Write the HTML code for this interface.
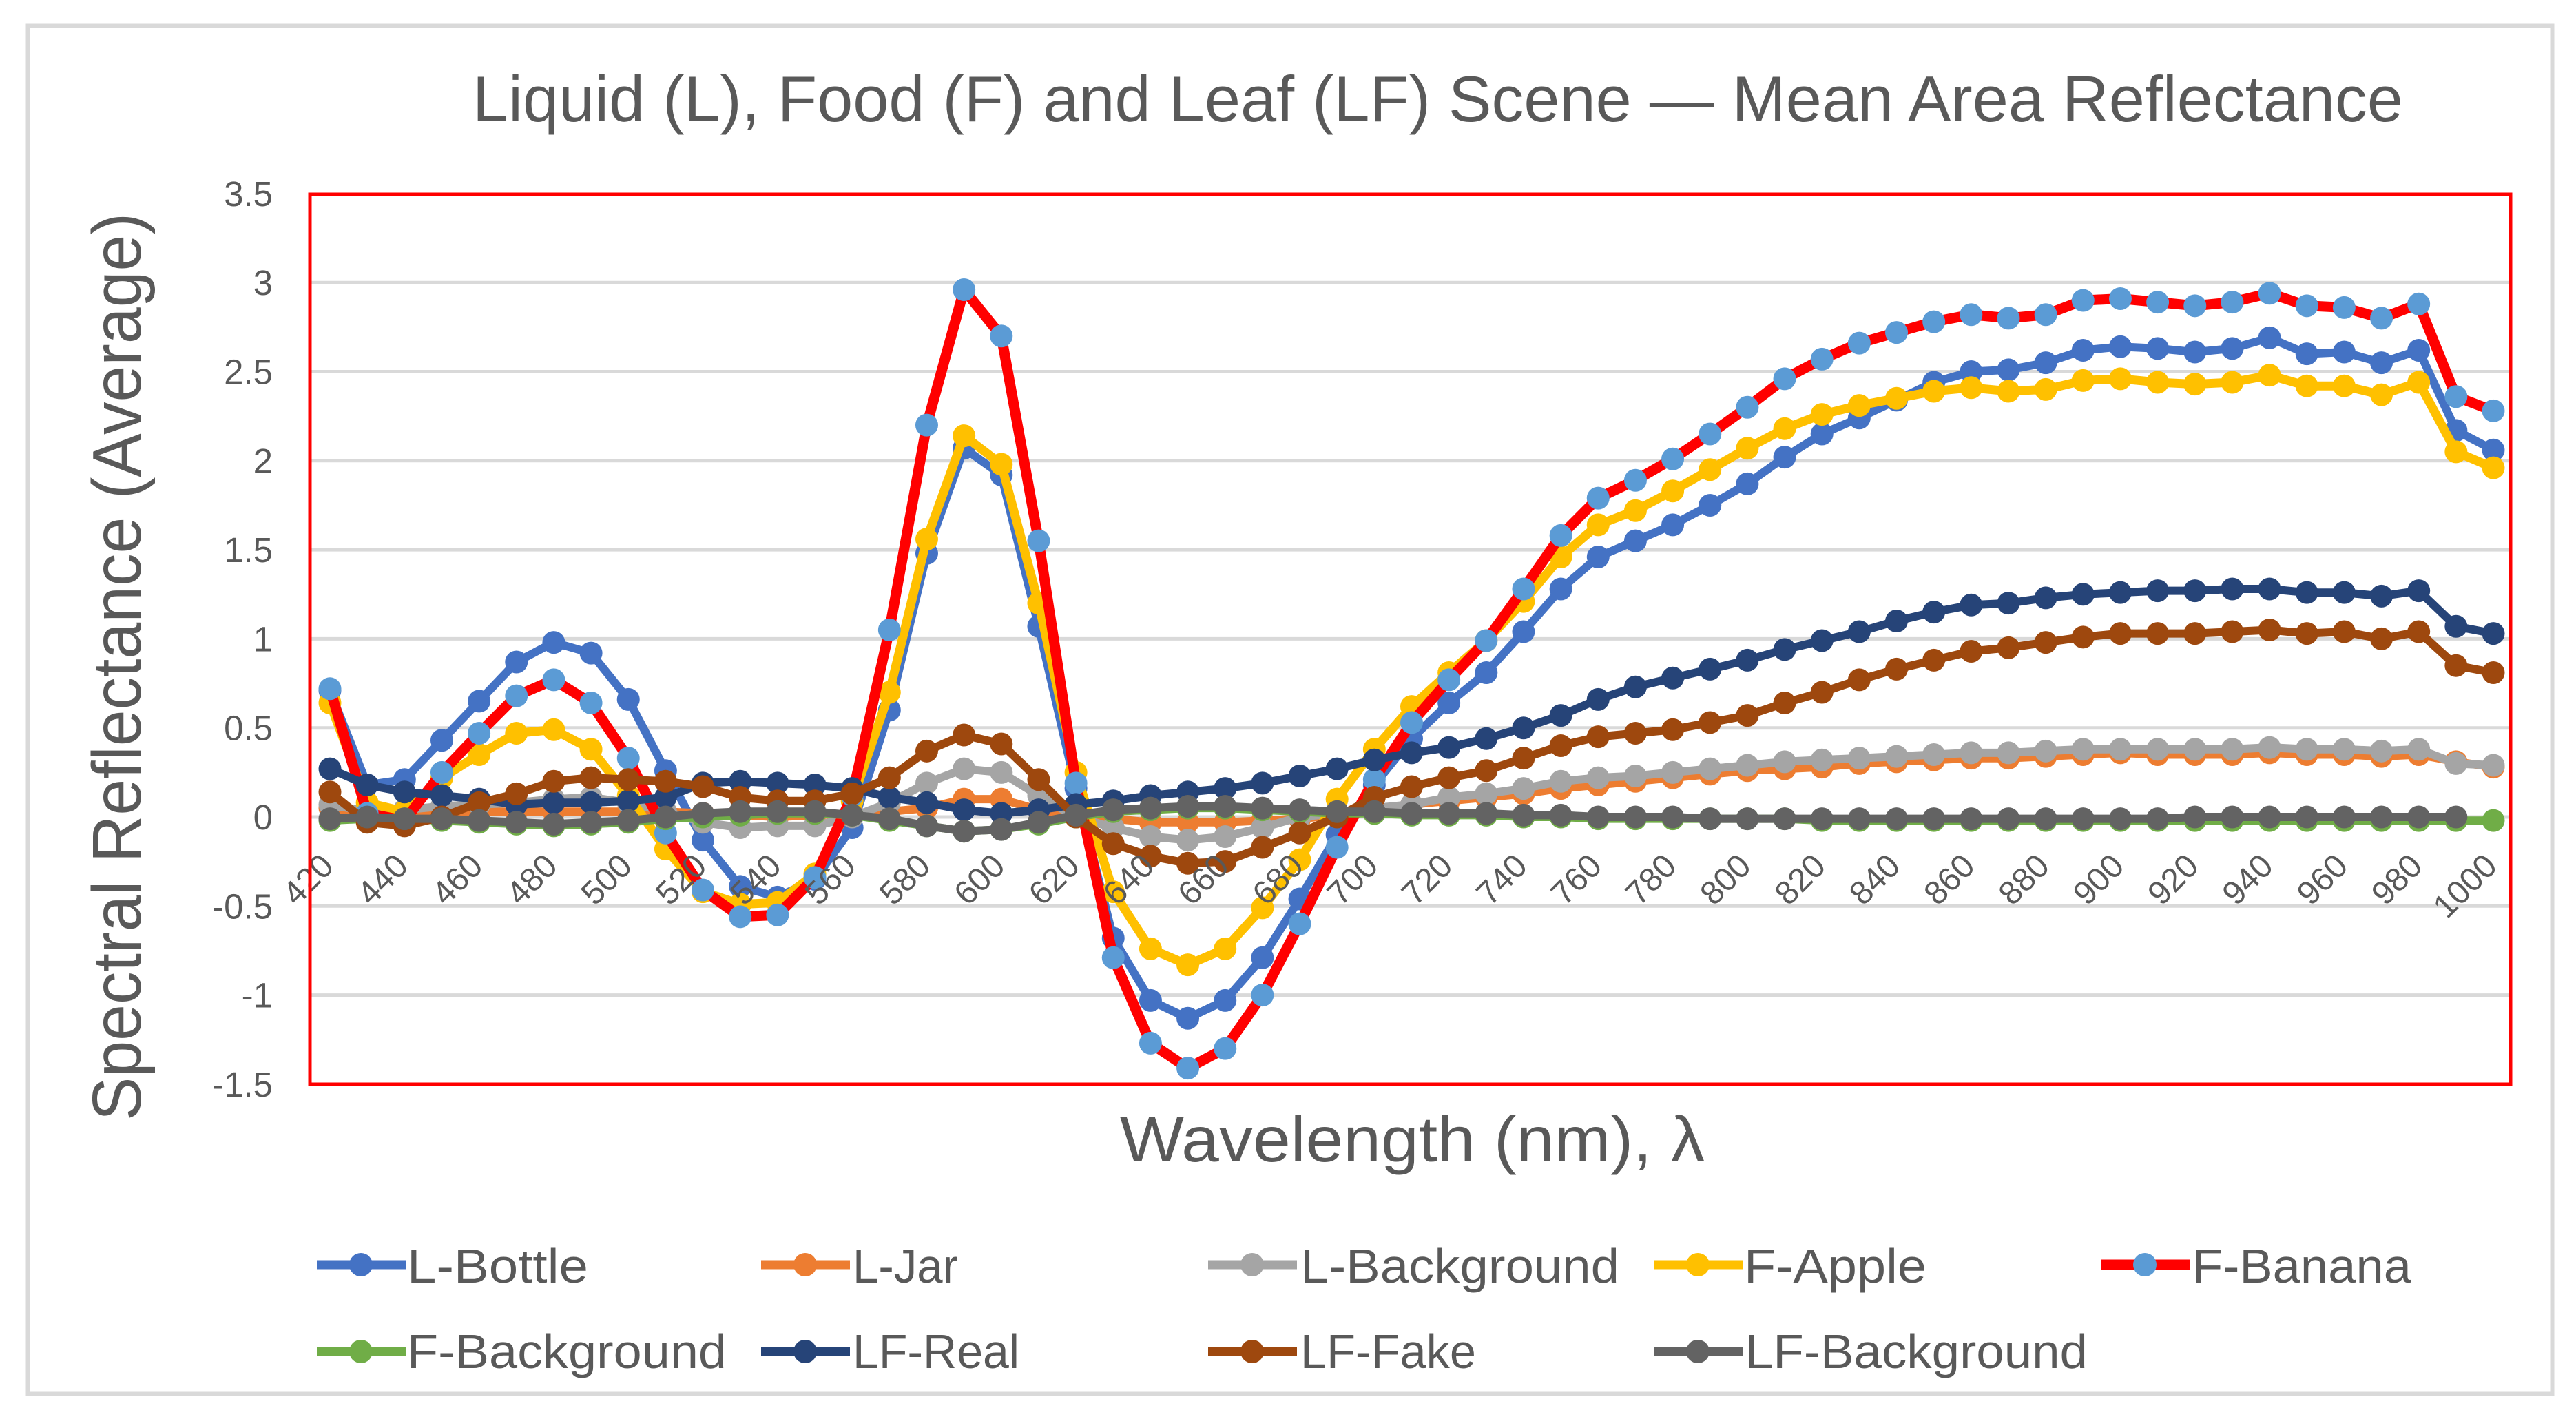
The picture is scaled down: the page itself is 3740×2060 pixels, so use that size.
<!DOCTYPE html>
<html lang="en">
<head>
<meta charset="utf-8">
<title>Liquid (L), Food (F) and Leaf (LF) Scene — Mean Area Reflectance</title>
<style>
html,body{margin:0;padding:0;background:#fff;}
svg{display:block;}
text{font-family:"Liberation Sans",sans-serif;fill:#595959;}
</style>
</head>
<body>
<svg id="chart" xmlns="http://www.w3.org/2000/svg" width="3740" height="2060" viewBox="0 0 3740 2060">
  <rect x="0" y="0" width="3740" height="2060" fill="#ffffff"/>
  <rect x="40.5" y="37.5" width="3665" height="1986" fill="#ffffff" stroke="#d9d9d9" stroke-width="6"/>
  <text x="686" y="176" font-size="94" textLength="2803" lengthAdjust="spacingAndGlyphs">Liquid (L), Food (F) and Leaf (LF) Scene — Mean Area Reflectance</text>
  <text transform="translate(204,968) rotate(-90)" text-anchor="middle" font-size="100" textLength="1318" lengthAdjust="spacingAndGlyphs">Spectral Reflectance (Average)</text>
  <text x="1626" y="1686" font-size="93" textLength="849" lengthAdjust="spacingAndGlyphs">Wavelength (nm), λ</text>
  <g id="grid"></g>
  <g id="y-ticks"></g>
  <g id="series"></g>
  <g id="x-ticks"></g>
  <rect x="450" y="282" width="3195" height="1292" fill="none" stroke="#ff0000" stroke-width="5"/>
  <g>
    <g>
      <line x1="460" x2="589" y1="1836" y2="1836" stroke="#4472C4" stroke-width="13"/><circle cx="524" cy="1836" r="17" fill="#4472C4"/>
      <text x="591" y="1862" font-size="70" textLength="263" lengthAdjust="spacingAndGlyphs">L-Bottle</text>
    </g>
    <g>
      <line x1="1105" x2="1234" y1="1836" y2="1836" stroke="#ED7D31" stroke-width="13"/><circle cx="1169" cy="1836" r="17" fill="#ED7D31"/>
      <text x="1238" y="1862" font-size="70" textLength="153" lengthAdjust="spacingAndGlyphs">L-Jar</text>
    </g>
    <g>
      <line x1="1754" x2="1883" y1="1836" y2="1836" stroke="#A5A5A5" stroke-width="13"/><circle cx="1818" cy="1836" r="17" fill="#A5A5A5"/>
      <text x="1888" y="1862" font-size="70" textLength="463" lengthAdjust="spacingAndGlyphs">L-Background</text>
    </g>
    <g>
      <line x1="2401" x2="2530" y1="1836" y2="1836" stroke="#FFC000" stroke-width="13"/><circle cx="2465" cy="1836" r="17" fill="#FFC000"/>
      <text x="2532" y="1862" font-size="70" textLength="265" lengthAdjust="spacingAndGlyphs">F-Apple</text>
    </g>
    <g>
      <line x1="3050" x2="3179" y1="1836" y2="1836" stroke="#FF0000" stroke-width="15"/><circle cx="3114" cy="1836" r="17" fill="#5B9BD5"/>
      <text x="3183" y="1862" font-size="70" textLength="318" lengthAdjust="spacingAndGlyphs">F-Banana</text>
    </g>
    <g>
      <line x1="460" x2="589" y1="1962" y2="1962" stroke="#70AD47" stroke-width="13"/><circle cx="524" cy="1962" r="17" fill="#70AD47"/>
      <text x="591" y="1986" font-size="70" textLength="464" lengthAdjust="spacingAndGlyphs">F-Background</text>
    </g>
    <g>
      <line x1="1105" x2="1234" y1="1962" y2="1962" stroke="#264478" stroke-width="13"/><circle cx="1169" cy="1962" r="17" fill="#264478"/>
      <text x="1238" y="1986" font-size="70" textLength="242" lengthAdjust="spacingAndGlyphs">LF-Real</text>
    </g>
    <g>
      <line x1="1754" x2="1883" y1="1962" y2="1962" stroke="#9E480E" stroke-width="13"/><circle cx="1818" cy="1962" r="17" fill="#9E480E"/>
      <text x="1888" y="1986" font-size="70" textLength="255" lengthAdjust="spacingAndGlyphs">LF-Fake</text>
    </g>
    <g>
      <line x1="2401" x2="2530" y1="1962" y2="1962" stroke="#636363" stroke-width="13"/><circle cx="2465" cy="1962" r="17" fill="#636363"/>
      <text x="2534" y="1986" font-size="70" textLength="497" lengthAdjust="spacingAndGlyphs">LF-Background</text>
    </g>
  </g>
</svg>
<script>
const wavelengths = [420,430,440,450,460,470,480,490,500,510,520,530,540,550,560,570,580,590,600,610,620,630,640,650,660,670,680,690,700,710,720,730,740,750,760,770,780,790,800,810,820,830,840,850,860,870,880,890,900,910,920,930,940,950,960,970,980,990,1000];
const yTickValues = [3.5,3,2.5,2,1.5,1,0.5,0,-0.5,-1,-1.5];
const xTickLabels = [420,440,460,480,500,520,540,560,580,600,620,640,660,680,700,720,740,760,780,800,820,840,860,880,900,920,940,960,980,1000];

const lBottle = [0.71,0.18,0.21,0.43,0.65,0.87,0.98,0.92,0.66,0.26,-0.13,-0.39,-0.45,-0.35,-0.06,0.60,1.48,2.07,1.92,1.07,0.16,-0.68,-1.03,-1.13,-1.03,-0.79,-0.46,-0.10,0.18,0.44,0.64,0.81,1.04,1.28,1.46,1.55,1.64,1.75,1.87,2.02,2.15,2.24,2.34,2.44,2.50,2.51,2.55,2.62,2.64,2.63,2.61,2.63,2.69,2.60,2.61,2.55,2.62,2.17,2.06];
const lJar = [0.05,0.02,0.02,0.03,0.03,0.03,0.03,0.03,0.03,0.03,0.02,0.01,0.00,0.01,0.02,0.03,0.05,0.10,0.10,0.04,0.00,-0.01,-0.03,-0.03,-0.03,-0.02,-0.01,0.01,0.04,0.07,0.09,0.11,0.13,0.16,0.18,0.20,0.22,0.24,0.26,0.27,0.28,0.30,0.31,0.32,0.33,0.33,0.34,0.35,0.36,0.35,0.35,0.35,0.36,0.35,0.35,0.34,0.35,0.31,0.28];
const lBackground = [0.07,0.03,0.04,0.06,0.07,0.08,0.10,0.11,0.08,0.03,-0.03,-0.06,-0.05,-0.05,0.00,0.08,0.19,0.27,0.25,0.12,0.00,-0.06,-0.11,-0.13,-0.11,-0.06,0.00,0.02,0.05,0.07,0.11,0.13,0.16,0.20,0.22,0.23,0.25,0.27,0.29,0.31,0.32,0.33,0.34,0.35,0.36,0.36,0.37,0.38,0.38,0.38,0.38,0.38,0.39,0.38,0.38,0.37,0.38,0.30,0.29];
const fApple = [0.64,0.08,0.03,0.22,0.35,0.47,0.49,0.38,0.12,-0.18,-0.42,-0.49,-0.48,-0.32,0.09,0.70,1.56,2.14,1.98,1.20,0.25,-0.42,-0.74,-0.83,-0.74,-0.51,-0.24,0.10,0.38,0.62,0.81,0.99,1.21,1.46,1.64,1.72,1.83,1.95,2.07,2.18,2.26,2.31,2.35,2.39,2.41,2.39,2.40,2.45,2.46,2.44,2.43,2.44,2.48,2.42,2.42,2.37,2.44,2.05,1.96];
const fBanana = [0.72,0.02,-0.02,0.25,0.47,0.68,0.77,0.64,0.33,-0.09,-0.41,-0.56,-0.55,-0.34,0.12,1.05,2.20,2.96,2.70,1.55,0.19,-0.79,-1.27,-1.41,-1.30,-1.00,-0.60,-0.17,0.21,0.53,0.77,0.99,1.28,1.58,1.79,1.89,2.01,2.15,2.30,2.46,2.57,2.66,2.72,2.78,2.82,2.80,2.82,2.90,2.91,2.89,2.87,2.89,2.94,2.87,2.86,2.80,2.88,2.36,2.28];
const fBackground = [-0.02,-0.01,-0.01,-0.02,-0.03,-0.04,-0.05,-0.04,-0.03,-0.01,0.00,0.01,0.02,0.02,0.01,-0.02,-0.05,-0.08,-0.07,-0.04,0.00,0.03,0.04,0.05,0.05,0.04,0.03,0.02,0.02,0.01,0.01,0.01,0.00,0.00,-0.01,-0.01,-0.01,-0.01,-0.01,-0.01,-0.02,-0.02,-0.02,-0.02,-0.02,-0.02,-0.02,-0.02,-0.02,-0.02,-0.02,-0.02,-0.02,-0.02,-0.02,-0.02,-0.02,-0.02,-0.02];
const lfReal = [0.27,0.18,0.14,0.12,0.10,0.07,0.08,0.08,0.09,0.11,0.19,0.20,0.19,0.18,0.16,0.11,0.08,0.04,0.02,0.04,0.07,0.09,0.12,0.14,0.16,0.19,0.23,0.27,0.32,0.36,0.39,0.44,0.50,0.57,0.66,0.73,0.78,0.83,0.88,0.94,0.99,1.04,1.10,1.15,1.19,1.20,1.23,1.25,1.26,1.27,1.27,1.28,1.28,1.26,1.26,1.24,1.27,1.07,1.03];
const lfFake = [0.14,-0.03,-0.05,0.00,0.08,0.13,0.20,0.22,0.21,0.20,0.17,0.11,0.09,0.09,0.13,0.22,0.37,0.46,0.41,0.21,0.00,-0.15,-0.22,-0.26,-0.25,-0.17,-0.09,0.00,0.11,0.17,0.22,0.26,0.33,0.40,0.45,0.47,0.49,0.53,0.57,0.64,0.70,0.77,0.83,0.88,0.93,0.95,0.98,1.01,1.03,1.03,1.03,1.04,1.05,1.03,1.04,1.00,1.04,0.85,0.81];
const lfBackground = [-0.01,0.00,-0.01,-0.01,-0.02,-0.03,-0.04,-0.03,-0.02,0.00,0.02,0.03,0.03,0.03,0.01,-0.01,-0.05,-0.08,-0.07,-0.03,0.01,0.04,0.05,0.06,0.06,0.05,0.04,0.03,0.03,0.02,0.02,0.02,0.01,0.01,0.00,0.00,0.00,-0.01,-0.01,-0.01,-0.01,-0.01,-0.01,-0.01,-0.01,-0.01,-0.01,-0.01,-0.01,-0.01,0.00,0.00,0.00,0.00,0.00,0.00,0.00,0.00,null];

const seriesNames = ['l-bottle','l-jar','l-background','f-apple','f-banana','f-background','lf-real','lf-fake','lf-background'];
const seriesValues = [lBottle,lJar,lBackground,fApple,fBanana,fBackground,lfReal,lfFake,lfBackground];
const lineColors = ['#4472C4','#ED7D31','#A5A5A5','#FFC000','#FF0000','#70AD47','#264478','#9E480E','#636363'];
const markerColors = ['#4472C4','#ED7D31','#A5A5A5','#FFC000','#5B9BD5','#70AD47','#264478','#9E480E','#636363'];
const lineWidths = [12,12,12,13,15,12,12,12,12];

const NS = 'http://www.w3.org/2000/svg';
const firstX = 479, lastX = 3620, firstW = wavelengths[0], lastW = wavelengths[wavelengths.length - 1];
function xScale(w) { return firstX + (w - firstW) * (lastX - firstX) / (lastW - firstW); }
function yScale(v) { return 1186 - v * 258.6; }

function make(tag, attrs, parent) {
  const el = document.createElementNS(NS, tag);
  for (const k in attrs) el.setAttribute(k, attrs[k]);
  parent.appendChild(el);
  return el;
}

const gridGroup = document.getElementById('grid');
const yTickGroup = document.getElementById('y-ticks');
yTickValues.forEach(function (v) {
  const y = yScale(v);
  if (v !== 3.5 && v !== -1.5) {
    const g = make('line', { x1: 452, x2: 3645, y1: y, y2: y, stroke: '#d9d9d9', 'stroke-width': 5 }, gridGroup);
    
    
  }
  const t = make('text', { x: 396, y: y + 18, 'text-anchor': 'end', 'font-size': 51 }, yTickGroup);
  
  
  t.textContent = String(v);
});

const seriesGroup = document.getElementById('series');
seriesValues.forEach(function (values, s) {
  const group = make('g', {}, seriesGroup);
  
  
  let d = '';
  values.forEach(function (v, i) {
    if (v === null) return;
    d += (d ? 'L' : 'M') + xScale(wavelengths[i]).toFixed(1) + ' ' + yScale(v).toFixed(1);
  });
  const path = make('path', { d: d, fill: 'none', stroke: lineColors[s], 'stroke-width': lineWidths[s], 'stroke-linejoin': 'round', 'stroke-linecap': 'round' }, group);
  
  
  values.forEach(function (v, i) {
    if (v === null) return;
    const c = make('circle', { cx: xScale(wavelengths[i]), cy: yScale(v), r: 16.5, fill: markerColors[s] }, group);
    
    
  });
});

const xTickGroup = document.getElementById('x-ticks');
xTickLabels.forEach(function (w) {
  const t = make('text', { transform: 'translate(' + (xScale(w) + 8) + ',1260) rotate(-45)', 'text-anchor': 'end', 'font-size': 48 }, xTickGroup);
  
  
  t.textContent = String(w);
});
</script>
</body>
</html>
